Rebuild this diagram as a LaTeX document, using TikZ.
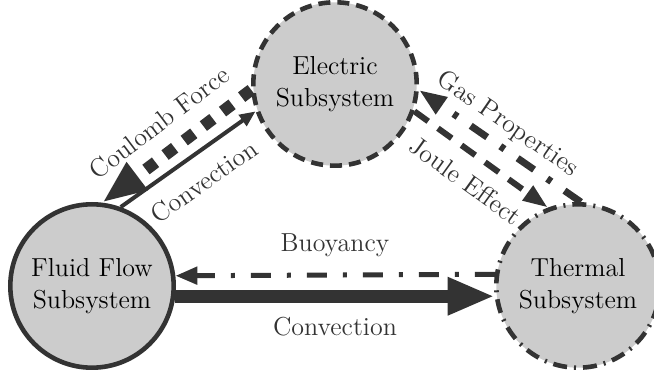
\documentclass[tikz,border=0pt]{standalone}
\usetikzlibrary{arrows.meta}
\definecolor{ink}{HTML}{333333}
\definecolor{disc}{HTML}{CCCCCC}
\begin{document}
\begin{tikzpicture}[x=0.5pt,y=-0.5pt,
  every node/.style={font=\fontsize{13}{16}\selectfont},
  subsys/.style={circle,fill=disc,draw=ink,line width=2.3pt,minimum size=81.7pt,
    inner sep=0pt,align=center,text=black},
  lbl/.style={text=ink,sloped,inner sep=0pt},
  link/.style={draw=ink,line cap=butt}
]
\useasboundingbox (0,0) rectangle (654,379);

% subsystems
\node[subsys] (fluid) at (92,286) {Fluid Flow\\Subsystem};
\node[subsys,dash pattern=on 6pt off 3.5pt] (elec) at (335,84) {Electric\\Subsystem};
\node[subsys,dash pattern=on 7pt off 3.5pt on 1pt off 3.5pt] (therm) at (578,286) {Thermal\\Subsystem};

% electric <-> fluid
\draw[link,line width=6pt,dash pattern=on 6pt off 6pt,
      -{Triangle[length=22pt,width=16pt]}]
  (elec.184) -- node[lbl,above=7pt] {Coulomb Force} (fluid.83);
\draw[link,line width=2pt,-{Triangle[length=8pt,width=6.5pt]}]
  (fluid.70) -- node[lbl,below=8pt] {Convection} (elec.199);

% thermal <-> electric
\draw[link,line width=3.5pt,dash pattern=on 10pt off 8pt on 2.5pt off 8pt,
      -{Triangle[length=14pt,width=9.5pt]}]
  (therm.88) -- node[lbl,above=3.5pt,pos=0.53] {Gas Properties} (elec.356);
\draw[link,line width=3pt,dash pattern=on 8.5pt off 6pt,
      -{Triangle[length=12.5pt,width=8.5pt]}]
  (elec.341) -- node[lbl,below=7pt] {Joule Effect} (therm.111);

% thermal <-> fluid
\draw[link,line width=2.5pt,dash pattern=on 10pt off 8pt on 2pt off 8pt,
      -{Triangle[length=11pt,width=8.5pt]}]
  (therm.172) -- node[lbl,above=8pt] {Buoyancy} (fluid.7);
\draw[link,line width=6.5pt,-{Triangle[length=23.5pt,width=17.5pt]}]
  (fluid.353) -- node[lbl,below=7pt] {Convection} (therm.187);
\end{tikzpicture}
\end{document}
